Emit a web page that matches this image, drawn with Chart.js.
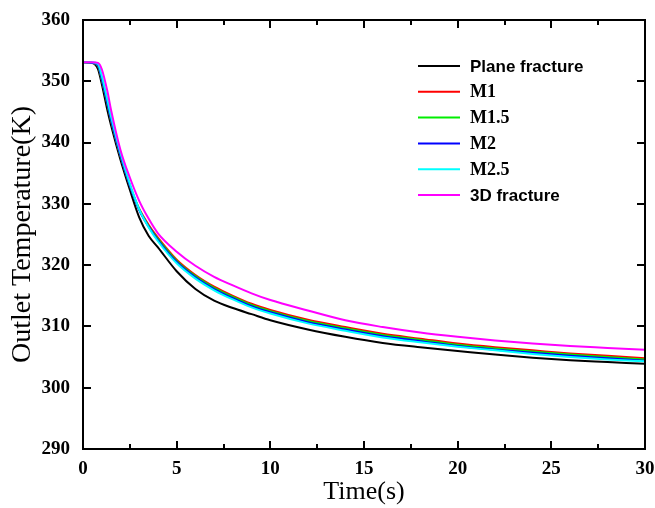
<!DOCTYPE html>
<html>
<head>
<meta charset="utf-8">
<script src="https://cdn.jsdelivr.net/npm/chart.js@4.4.0/dist/chart.umd.min.js"></script>
<style>
  body { margin: 0; background: #fff; }
  #wrap { width: 655px; height: 508px; }
</style>
</head>
<body>
<div id="wrap"><canvas id="tempChart"></canvas></div>
<script>
// time (s)
const time = [0, 0.5, 0.8, 1, 1.3, 1.5, 2, 2.5, 3, 3.5, 4, 5, 6, 7, 8, 9, 10, 12, 14, 16, 18, 20, 22, 24, 26, 28, 30];

// outlet temperature (K)
const planeFracture = [353.1, 353.0, 352.0, 349.6, 345.3, 342.8, 337.2, 332.3, 327.8, 324.8, 322.9, 319.0, 316.1, 314.2, 313.0, 312.0, 311.0, 309.5, 308.3, 307.3, 306.6, 306.0, 305.4, 304.9, 304.5, 304.2, 303.9];
const m1 = [353.1, 353.0, 352.5, 350.3, 346.3, 343.6, 337.8, 333.0, 329.2, 326.6, 324.5, 320.9, 318.4, 316.5, 315.0, 313.7, 312.7, 311.1, 309.9, 308.8, 308.0, 307.2, 306.6, 306.1, 305.6, 305.2, 304.8];
const m15 = [353.1, 353.0, 352.5, 350.3, 346.3, 343.6, 337.8, 333.0, 329.1, 326.4, 324.3, 320.7, 318.2, 316.3, 314.8, 313.5, 312.5, 310.9, 309.7, 308.6, 307.8, 307.0, 306.4, 305.9, 305.4, 305.0, 304.6];
const m2 = [353.1, 353.0, 352.6, 350.4, 346.4, 343.7, 337.9, 333.0, 329.0, 326.3, 324.1, 320.5, 318.0, 316.1, 314.6, 313.3, 312.3, 310.7, 309.5, 308.4, 307.6, 306.8, 306.2, 305.7, 305.2, 304.8, 304.4];
const m25 = [353.1, 353.1, 352.8, 350.9, 347.0, 344.2, 338.3, 333.3, 329.1, 326.2, 323.9, 320.3, 317.8, 315.9, 314.4, 313.1, 312.1, 310.5, 309.3, 308.2, 307.4, 306.7, 306.1, 305.5, 305.0, 304.6, 304.3];
const fracture3D = [353.1, 353.1, 353.0, 352.0, 348.4, 345.3, 338.8, 334.3, 330.5, 327.6, 325.2, 322.2, 319.9, 318.1, 316.7, 315.4, 314.3, 312.6, 311.0, 309.9, 309.0, 308.3, 307.7, 307.2, 306.8, 306.5, 306.2];

const seriesNames = ['Plane fracture', 'M1', 'M1.5', 'M2', 'M2.5', '3D fracture'];
const seriesValues = [planeFracture, m1, m15, m2, m25, fracture3D];
const seriesColors = ['#000000', '#ff0000', '#00ee00', '#0000ff', '#00ffff', '#ff00ff'];
const legendFonts = ['bold 17px "Liberation Sans"', 'bold 18px "Liberation Serif"', 'bold 18px "Liberation Serif"',
                     'bold 18px "Liberation Serif"', 'bold 18px "Liberation Serif"', 'bold 17px "Liberation Sans"'];

// inward ticks on all four sides, frame and the legend
const frameAndLegend = {
  id: 'frameAndLegend',
  afterDraw(chart) {
    const ctx = chart.ctx;
    const a = chart.chartArea;
    const x = chart.scales.x, y = chart.scales.y;
    ctx.save();
    ctx.strokeStyle = '#000';
    ctx.lineWidth = 2;
    ctx.beginPath();
    x.ticks.forEach(t => {
      const px = Math.round(x.getPixelForValue(t.value));
      const len = t.value % 5 === 0 ? 8 : 5;
      ctx.moveTo(px, a.bottom); ctx.lineTo(px, a.bottom - len);
      ctx.moveTo(px, a.top); ctx.lineTo(px, a.top + len);
    });
    y.ticks.forEach(t => {
      const py = Math.round(y.getPixelForValue(t.value));
      ctx.moveTo(a.left, py); ctx.lineTo(a.left + 8, py);
      ctx.moveTo(a.right, py); ctx.lineTo(a.right - 8, py);
    });
    ctx.stroke();
    ctx.strokeRect(a.left, a.top, a.right - a.left, a.bottom - a.top);

    // legend
    const lx = a.right - 227, ty = a.top + 46;
    ctx.textBaseline = 'middle';
    ctx.fillStyle = '#000';
    seriesNames.forEach((name, i) => {
      const yy = ty + i * 25.8;
      ctx.strokeStyle = seriesColors[i];
      ctx.lineWidth = 2;
      ctx.beginPath();
      ctx.moveTo(lx, yy); ctx.lineTo(lx + 42, yy);
      ctx.stroke();
      ctx.font = legendFonts[i];
      ctx.fillText(name, lx + 52, yy + 1);
    });
    ctx.restore();
  }
};

new Chart(document.getElementById('tempChart'), {
  type: 'line',
  data: {
    datasets: seriesNames.map((name, i) => ({
      label: name,
      data: time.map((t, j) => ({ x: t, y: seriesValues[i][j] })),
      borderColor: seriesColors[i],
      borderWidth: 2,
      pointRadius: 0,
      cubicInterpolationMode: 'monotone',
      order: i === 5 ? 0 : 6 - i
    }))
  },
  options: {
    responsive: true,
    maintainAspectRatio: false,
    animation: false,
    layout: { padding: { top: 20, right: 10 } },
    plugins: {
      legend: { display: false },
      tooltip: { enabled: false }
    },
    scales: {
      x: {
        type: 'linear',
        min: 0,
        max: 30,
        grid: { display: false, drawTicks: false },
        border: { display: false },
        afterFit: s => { s.height = 59; s.paddingLeft = 0; s.paddingRight = 0; },
        ticks: {
          stepSize: 2.5,
          padding: 9,
          maxRotation: 0,
          color: '#000',
          font: { family: 'Liberation Serif', size: 19, weight: 'bold' },
          callback: v => (v % 5 === 0 ? v : '')
        },
        title: {
          display: true,
          text: 'Time(s)',
          color: '#000',
          padding: { top: 0, bottom: 0 },
          font: { family: 'Liberation Serif', size: 26 }
        }
      },
      y: {
        min: 290,
        max: 360,
        grid: { display: false, drawTicks: false },
        border: { display: false },
        afterFit: s => { s.width = 83; s.paddingTop = 0; s.paddingBottom = 0; },
        ticks: {
          stepSize: 10,
          padding: 13,
          color: '#000',
          font: { family: 'Liberation Serif', size: 19, weight: 'bold' }
        },
        title: {
          display: true,
          text: 'Outlet Temperature(K)',
          color: '#000',
          padding: { top: 6, bottom: 0 },
          font: { family: 'Liberation Serif', size: 28 }
        }
      }
    }
  },
  plugins: [frameAndLegend]
});
</script>
</body>
</html>
